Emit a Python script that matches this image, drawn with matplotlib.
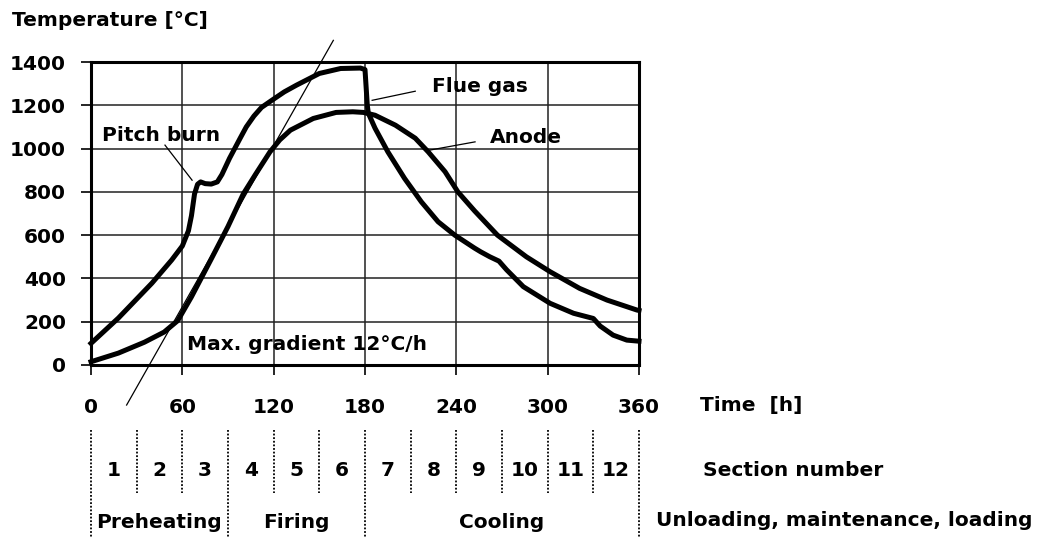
import matplotlib.pyplot as plt
import matplotlib.transforms as mtransforms
import numpy as np

# Anode baking furnace: flue gas and anode temperature over one fire cycle

flue_t = [0, 18, 40, 53, 60, 64, 66, 68, 70, 72, 75, 79, 83, 86, 91, 98, 102, 107, 112, 119, 127,
          135, 150, 164, 177, 180, 181.5, 182.2, 186.6, 195, 206, 217, 228, 239, 252, 256, 262,
          268, 273, 284, 301.6, 317, 330, 334.5, 343, 352, 360]
flue_T = [100, 217, 378, 485, 550, 620, 690, 790, 835, 846, 838, 836, 846, 880, 955, 1048, 1100,
          1150, 1190, 1224, 1262, 1293, 1347, 1370, 1372, 1365, 1200, 1163, 1094, 985, 862, 754,
          662, 600, 540, 523, 500, 480, 440, 362, 285, 239, 215, 180, 138, 115, 110]

anode_t = [0, 18, 35, 48, 57, 66, 79, 90, 100, 108, 117.6, 124, 131, 146, 161, 172, 179, 186.6,
           200, 213, 221.5, 232.6, 241, 252, 267, 286, 301.6, 321, 339, 358.6, 360]
anode_T = [15, 55, 105, 152, 205, 315, 490, 640, 790, 880, 985, 1040, 1085, 1139, 1167, 1170, 1167,
           1154, 1108, 1048, 985, 893, 800, 712, 600, 500, 431, 354, 300, 254, 252]

x_ticks = [0, 60, 120, 180, 240, 300, 360]
y_ticks = [0, 200, 400, 600, 800, 1000, 1200, 1400]
sections = [str(i) for i in range(1, 13)]
phases = ["Preheating", "Firing", "Cooling"]
phase_mid = [45, 135, 270]
section_len = 30
major_div = [0, 3, 6, 12]

# gradient guide line ends (t, T)
grad_t = [23.4, 159.2]
grad_T = [-185, 1500]

plt.rcParams['font.family'] = 'DejaVu Sans'
plt.rcParams['font.weight'] = 'bold'
FS = 14.5

fig = plt.figure(figsize=(10.37, 5.38), dpi=100)
W, H = 1037, 538
ax = fig.add_axes([91 / W, 1 - 365 / H, 548 / W, 303 / H])

ax.set_xlim(0, 360)
ax.set_ylim(0, 1400)
ax.set_xticks(x_ticks)
ax.set_yticks(y_ticks)
ax.grid(True, color='#222222', linewidth=1.1)
ax.set_axisbelow(True)
for s in ax.spines.values():
    s.set_linewidth(2.2)
    s.set_color('black')
ax.tick_params(axis='x', length=7, width=1.2, pad=17, labelsize=FS)
ax.tick_params(axis='y', length=7, width=1.2, pad=11, labelsize=FS)

ax.plot(flue_t, flue_T, color='black', linewidth=3.6, solid_joinstyle='round', clip_on=False)
ax.plot(anode_t, anode_T, color='black', linewidth=3.6, solid_joinstyle='round', clip_on=False)
ax.plot(grad_t, grad_T, color='black', linewidth=0.9, clip_on=False)

# labels and leader lines
ax.text(7, 1062, "Pitch burn", fontsize=FS, ha='left', va='center')
ax.plot([48.6, 66.4], [1016, 854], color='black', linewidth=0.9)
ax.text(224, 1288, "Flue gas", fontsize=FS, ha='left', va='center')
ax.plot([184.7, 213], [1223, 1265], color='black', linewidth=0.9)
ax.text(262, 1053, "Anode", fontsize=FS, ha='left', va='center')
ax.plot([222.6, 252.3], [993, 1031], color='black', linewidth=0.9)
ax.text(63, 97, "Max. gradient 12°C/h", fontsize=FS, ha='left', va='center')

fig.text(12 / W, 1 - 20 / H, "Temperature [°C]", fontsize=FS, ha='left', va='center')

# section strip below the chart
tr = mtransforms.blended_transform_factory(ax.transData, fig.transFigure)
ax.text(400, 1 - 406 / H, "Time  [h]", transform=tr, fontsize=FS, ha='left', va='center')

for k in range(13):
    y_end = 0 if k in major_div else 1 - 493 / H
    ax.plot([k * section_len, k * section_len], [1 - 430 / H, y_end], transform=tr,
            color='black', linestyle=(0, (1, 1)), linewidth=1.3, clip_on=False)

for i, lab in enumerate(sections):
    ax.text((i + 0.5) * section_len, 1 - 470 / H, lab, transform=tr, fontsize=FS,
            ha='center', va='center')

for lab, m in zip(phases, phase_mid):
    ax.text(m, 1 - 523 / H, lab, transform=tr, fontsize=FS, ha='center', va='center')

fig.text(703 / W, 1 - 470 / H, "Section number", fontsize=FS, ha='left', va='center')
fig.text(656 / W, 1 - 520 / H, "Unloading, maintenance, loading", fontsize=FS,
         ha='left', va='center')

fig.savefig("out.png", dpi=100)
